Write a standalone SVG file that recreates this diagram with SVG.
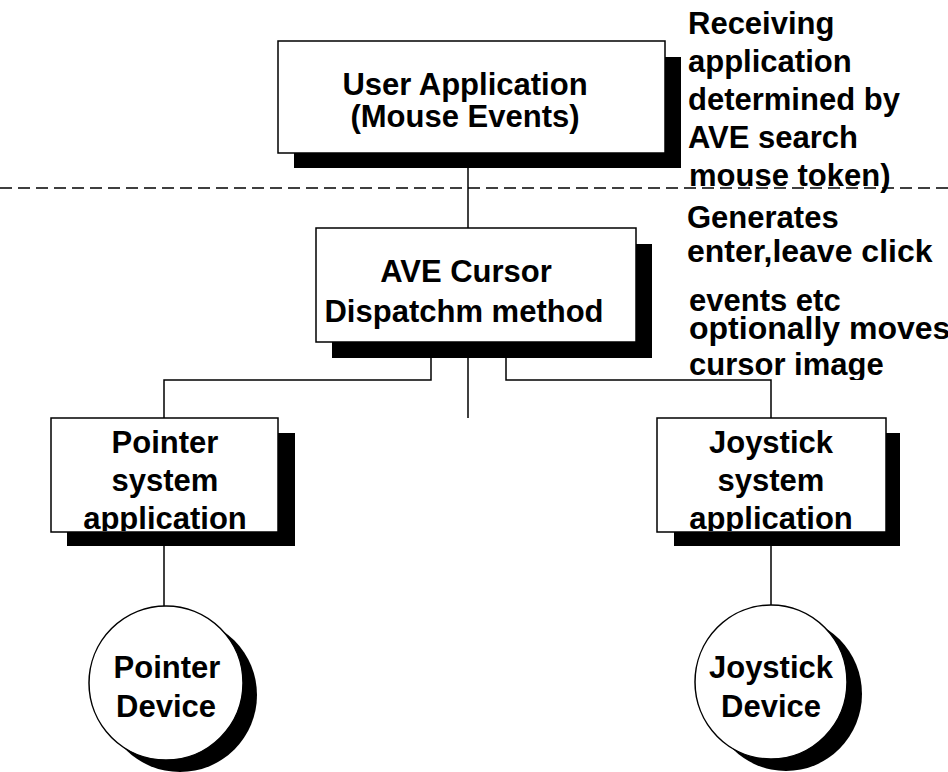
<svg xmlns="http://www.w3.org/2000/svg" width="948" height="772" viewBox="0 0 948 772">
  <style>
    .box { fill: #fff; stroke: #000; stroke-width: 1.5; }
    .shadow { fill: #000; stroke: none; }
    .wire { fill: none; stroke: #000; stroke-width: 1.5; }
    .dash { fill: none; stroke: #000; stroke-width: 1.5; stroke-dasharray: 12 6; }
    text { font-family: "Liberation Sans", Arial, sans-serif; font-weight: bold; font-size: 31px; fill: #000; }
    .c { text-anchor: middle; }
    .w { font-size: 32px; }
  </style>

  <defs>
    <!-- text areas: labels are cut off at the bottom edge of their frames -->
    <clipPath id="clip-pointer"><rect x="51" y="418" width="227" height="113"/></clipPath>
    <clipPath id="clip-joystick"><rect x="657" y="418" width="229" height="113"/></clipPath>
    <clipPath id="clip-note"><rect x="680" y="195" width="268" height="185"/></clipPath>
  </defs>

  <rect width="948" height="772" fill="#fff"/>

  <!-- connectors -->
  <g id="connectors">
    <line class="wire" x1="468" y1="153" x2="468" y2="228"/>
    <polyline class="wire" points="431,342 431,380 164,380 164,418"/>
    <polyline class="wire" points="506,342 506,380 771,380 771,418"/>
    <line class="wire" x1="468" y1="342" x2="468" y2="418"/>
    <line class="wire" x1="164" y1="532" x2="164" y2="606"/>
    <line class="wire" x1="771" y1="532" x2="771" y2="605"/>
  </g>

  <!-- boundary line -->
  <line class="dash" x1="0" y1="188" x2="948" y2="188"/>

  <g id="user-application">
    <rect class="shadow" x="294" y="57" width="387" height="111"/>
    <rect class="box" x="278" y="41" width="387" height="112"/>
    <text class="c" x="465" y="95">User Application</text>
    <text class="c" x="465" y="127">(Mouse Events)</text>
  </g>

  <g id="ave-cursor">
    <rect class="shadow" x="332" y="244" width="320" height="114"/>
    <rect class="box" x="316" y="228" width="320" height="114"/>
    <text class="c" x="466" y="282">AVE Cursor</text>
    <text class="c" x="464" y="322">Dispatchm method</text>
  </g>

  <g id="pointer-system">
    <rect class="shadow" x="67" y="433" width="228" height="113"/>
    <rect class="box" x="51" y="418" width="227" height="114"/>
    <g clip-path="url(#clip-pointer)">
      <text class="c" x="165" y="453">Pointer</text>
      <text class="c" x="165" y="491">system</text>
      <text class="c" x="165" y="529">application</text>
    </g>
  </g>

  <g id="joystick-system">
    <rect class="shadow" x="674" y="433" width="226" height="113"/>
    <rect class="box" x="657" y="418" width="229" height="114"/>
    <g clip-path="url(#clip-joystick)">
      <text class="c" x="771" y="453">Joystick</text>
      <text class="c" x="771" y="491">system</text>
      <text class="c" x="771" y="529">application</text>
    </g>
  </g>

  <g id="pointer-device">
    <ellipse class="shadow" cx="180" cy="695" rx="77" ry="77"/>
    <ellipse class="box" cx="166" cy="683" rx="77" ry="77"/>
    <text class="c" x="167" y="678">Pointer</text>
    <text class="c" x="166" y="717">Device</text>
  </g>

  <g id="joystick-device">
    <ellipse class="shadow" cx="786" cy="694" rx="76" ry="77"/>
    <ellipse class="box" cx="771" cy="682" rx="76" ry="77"/>
    <text class="c" x="771" y="678">Joystick</text>
    <text class="c" x="771" y="717">Device</text>
  </g>

  <!-- annotations -->
  <g id="note-receiving">
    <text x="688" y="34">Receiving</text>
    <text x="688" y="72">application</text>
    <text x="688" y="110">determined by</text>
    <text x="688" y="148">AVE search</text>
    <text x="689" y="186">mouse token)</text>
  </g>

  <g id="note-generates" clip-path="url(#clip-note)">
    <text x="687" y="228">Generates</text>
    <text class="w" x="687" y="262">enter,leave click</text>
    <text x="689" y="311">events etc</text>
    <text class="w" x="689" y="339">optionally moves</text>
    <text x="689" y="375">cursor image</text>
  </g>
</svg>
